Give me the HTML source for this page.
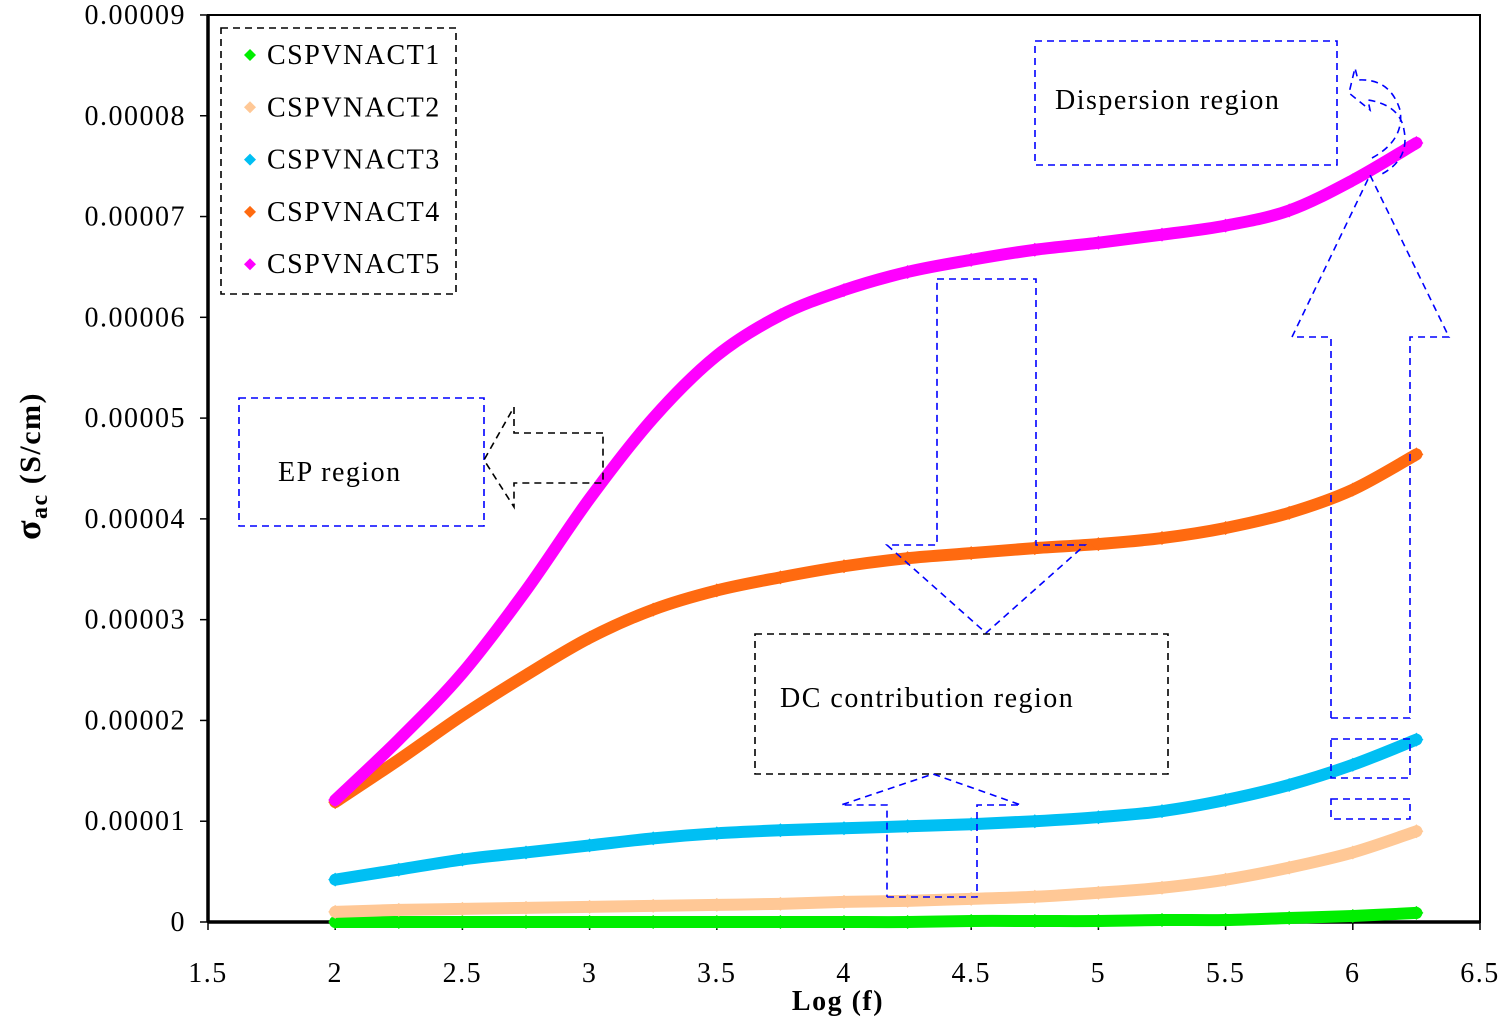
<!DOCTYPE html>
<html><head><meta charset="utf-8"><style>
body{margin:0;background:#fff}
svg text{font-family:"Liberation Serif",serif;fill:#000;letter-spacing:1.5px}
</style></head><body>
<svg id="chart" width="1500" height="1020" viewBox="0 0 1500 1020" xmlns="http://www.w3.org/2000/svg">
<rect x="208" y="15" width="1272" height="907" fill="#fff" stroke="#000" stroke-width="2"/>
<g id="axes"></g>
<g id="series"></g>
<g fill="none" stroke-width="1.6" stroke-dasharray="7,5">
  <rect x="239" y="398" width="245" height="128" stroke="#0000ff"/>
  <polyline points="603,433 514,433 514,407 484,460 514,507 514,483 603,483 603,433" stroke="#000"/>
  <rect x="1035" y="41" width="302" height="124" stroke="#0000ff"/>
  <path d="M1372,158 Q1405,140 1400,110 Q1390,78 1358,80 L1355,68 L1349,93 L1370,110 L1368,100 Q1400,105 1404,130 Q1410,160 1380,175" stroke="#0000ff"/>
  <polyline points="1331,718 1331,337 1292,337 1370,175 1449,337 1410,337 1410,718 1331,718" stroke="#0000ff"/>
  <rect x="1331" y="739" width="79" height="39" stroke="#0000ff"/>
  <rect x="1331" y="799" width="79" height="20" stroke="#0000ff"/>
  <polyline points="937,279 1036,279 1036,545 1085,545 986,633 887,545 937,545 937,279" stroke="#0000ff"/>
  <rect x="755" y="634" width="413" height="140" stroke="#000"/>
  <polyline points="887,897 977,897 977,805 1021,805 933,774 841,805 887,805 887,897" stroke="#0000ff"/>
</g>
<text x="278" y="481" font-size="28">EP region</text>
<text x="1055" y="109" font-size="28">Dispersion region</text>
<text x="780" y="707" font-size="28">DC contribution region</text>
<g id="legend">
  <rect x="221" y="28" width="235" height="266" fill="#fff" stroke="#000" stroke-width="1.6" stroke-dasharray="7,5"/>
</g>
<text x="838" y="1010" font-size="28" font-weight="bold" text-anchor="middle">Log (f)</text>
<text transform="translate(40,466) rotate(-90)" font-size="30" font-weight="bold" text-anchor="middle"><tspan font-size="36">σ</tspan><tspan font-size="24" dy="7">ac</tspan><tspan dy="-7">  (S/cm)</tspan></text>
</svg>
<script>
const xs=[2,2.25,2.5,2.75,3,3.25,3.5,3.75,4,4.25,4.5,4.75,5,5.25,5.5,5.75,6,6.25];
const s1=[0.00,0.00,0.00,0.00,0.00,0.00,0.00,0.00,0.00,0.00,0.01,0.01,0.01,0.02,0.02,0.04,0.06,0.09];
const s2=[0.10,0.12,0.13,0.14,0.15,0.16,0.17,0.18,0.20,0.21,0.23,0.25,0.29,0.34,0.42,0.54,0.69,0.90];
const s3=[0.42,0.52,0.62,0.69,0.76,0.83,0.88,0.91,0.93,0.95,0.97,1.00,1.04,1.10,1.21,1.36,1.56,1.81];
const s4=[1.19,1.61,2.05,2.45,2.82,3.10,3.29,3.42,3.53,3.61,3.66,3.71,3.75,3.81,3.91,4.06,4.29,4.64];
const s5=[1.21,1.81,2.47,3.29,4.20,5.00,5.62,6.02,6.27,6.45,6.57,6.67,6.74,6.82,6.91,7.06,7.36,7.73];
const names=["CSPVNACT1","CSPVNACT2","CSPVNACT3","CSPVNACT4","CSPVNACT5"];
const colors=["#00ee00","#ffc896","#00bff3","#ff6a10","#ff00ff"];
const xTicks=["1.5","2","2.5","3","3.5","4","4.5","5","5.5","6","6.5"];
const yTicks=["0","0.00001","0.00002","0.00003","0.00004","0.00005","0.00006","0.00007","0.00008","0.00009"];
const NS="http://www.w3.org/2000/svg";
const X=v=>208+(v-1.5)*254.4, Y=v=>922-v*100.78;
function mk(t,a,p){const e=document.createElementNS(NS,t);for(const k in a)e.setAttribute(k,a[k]);p.appendChild(e);return e;}
const ax=document.getElementById('axes');
let l=mk('line',{x1:208,y1:922,x2:1480,y2:922,stroke:'#000','stroke-width':3.5},ax);


l=mk('line',{x1:208,y1:15,x2:208,y2:922,stroke:'#000','stroke-width':3.5},ax);


xTicks.forEach(t=>{const x=X(+t);mk('line',{x1:x,y1:922,x2:x,y2:930,stroke:'#000','stroke-width':1.5},ax);
 const e=mk('text',{x:x,y:982,'font-size':28,'text-anchor':'middle'},ax);e.textContent=t;
 
 });
yTicks.forEach((t,i)=>{const y=Y(i);mk('line',{x1:200,y1:y,x2:208,y2:y,stroke:'#000','stroke-width':1.5},ax);
 const e=mk('text',{x:186,y:y+9,'font-size':28,'text-anchor':'end'},ax);e.textContent=t;
 
 });
function smooth(vals){let pts=xs.map((x,i)=>[X(x),Y(vals[i])]);let d='M'+pts[0];
 for(let i=0;i<pts.length-1;i++){const p0=pts[i-1]||pts[i],p1=pts[i],p2=pts[i+1],p3=pts[i+2]||p2;
 d+=' C'+(p1[0]+(p2[0]-p0[0])/6)+','+(p1[1]+(p2[1]-p0[1])/6)+' '+(p2[0]-(p3[0]-p1[0])/6)+','+(p2[1]-(p3[1]-p1[1])/6)+' '+p2[0]+','+p2[1];}return d;}
const sg=document.getElementById('series');
[s1,s2,s3,s4,s5].forEach((vals,k)=>{
 const g=mk('g',{},sg);
 
 
 mk('path',{d:smooth(vals),fill:'none',stroke:colors[k],'stroke-width':12,'stroke-linecap':'round'},g);
 xs.forEach((x,i)=>{const cx=X(x),cy=Y(vals[i]);
  const m=mk('polygon',{points:`${cx},${cy-7} ${cx+7},${cy} ${cx},${cy+7} ${cx-7},${cy}`,fill:colors[k]},g);
  
  });
});
const lg=document.getElementById('legend');
names.forEach((n,k)=>{const y=55+k*52.3;
 const m=mk('polygon',{points:`250,${y-6} 256,${y} 250,${y+6} 244,${y}`,fill:colors[k]},lg);
 
 
 const t=mk('text',{x:267,y:y+9,'font-size':28},lg);t.textContent=n;
 
 });
</script>
</body></html>
